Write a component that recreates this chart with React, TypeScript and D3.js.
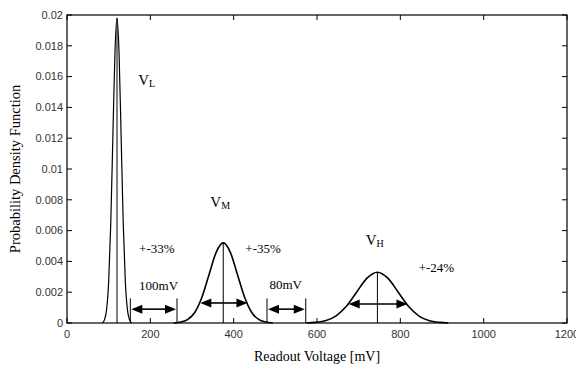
import * as d3 from "d3";

// readout voltage (mV) vs probability density
const lowPeak: [number, number][] = [
  [85, 0], [90, 0.00022], [95, 0.00087], [100, 0.00268], [105, 0.00643],
  [110, 0.01201], [115, 0.01747], [120, 0.0198], [125, 0.01747], [130, 0.01201],
  [135, 0.00643], [140, 0.00268], [145, 0.00087], [150, 0.00022], [155, 0],
];
const midPeak: [number, number][] = [
  [256, 0], [273, 0.00006], [290, 0.00023], [307, 0.0007], [324, 0.00169],
  [341, 0.00315], [358, 0.00459], [375, 0.0052], [392, 0.00459], [409, 0.00315],
  [426, 0.00169], [443, 0.0007], [460, 0.00023], [477, 0.00006], [494, 0],
];
const highPeak: [number, number][] = [
  [575, 0], [595, 0.00004], [620, 0.00014], [645, 0.00045], [670, 0.00107],
  [695, 0.002], [720, 0.00291], [745, 0.0033], [770, 0.00291], [795, 0.002],
  [820, 0.00107], [845, 0.00045], [870, 0.00014], [895, 0.00004], [915, 0],
];

const peakCenters = [120, 375, 745];
const peakHeights = [0.0198, 0.0052, 0.0033];

// gaps between levels: [from, to, bar top, arrow level]
const gaps: [number, number, number, number][] = [
  [152, 264, 0.0016, 0.0009],
  [480, 573, 0.0016, 0.0009],
];
// spreads around the middle and high level: [from, to, level]
const spreads: [number, number, number][] = [
  [320, 433, 0.0013],
  [676, 817, 0.00123],
];

const xTicks = [0, 200, 400, 600, 800, 1000, 1200];
const yTicks = [0, 0.002, 0.004, 0.006, 0.008, 0.01, 0.012, 0.014, 0.016, 0.018, 0.02];

const levelLabels = [
  { main: "V", sub: "L", x: 171, y: 0.01545 },
  { main: "V", sub: "M", x: 344, y: 0.00753 },
  { main: "V", sub: "H", x: 717, y: 0.00506 },
];
const notes = [
  { text: "+-33%", x: 173, y: 0.00455 },
  { text: "+-35%", x: 428, y: 0.00455 },
  { text: "+-24%", x: 844, y: 0.00331 },
  { text: "100mV", x: 173, y: 0.00214 },
  { text: "80mV", x: 486, y: 0.0022 },
];

const W = 576;
const H = 366;
const margin = { top: 15, right: 10, bottom: 43, left: 67 };
const serif = "'Liberation Serif', 'Times New Roman', serif";
const sans = "'Liberation Sans', Arial, sans-serif";

function DoubleArrow({ x1, x2, y }: { x1: number; x2: number; y: number }) {
  const len = 11;
  const hw = 4.5;
  return (
    <g>
      <line x1={x1 + len - 1} x2={x2 - len + 1} y1={y} y2={y} stroke="#000" strokeWidth={1.6} />
      <path d={`M${x1},${y}L${x1 + len},${y - hw}L${x1 + len},${y + hw}Z`} fill="#000" />
      <path d={`M${x2},${y}L${x2 - len},${y - hw}L${x2 - len},${y + hw}Z`} fill="#000" />
    </g>
  );
}

export default function App() {
  const x = d3.scaleLinear().domain([0, 1200]).range([margin.left, W - margin.right + 1]);
  const y = d3.scaleLinear().domain([0, 0.02]).range([H - margin.bottom, margin.top]);
  const x0 = x(0);
  const x1 = x(1200);
  const y0 = y(0);
  const y1 = y(0.02);

  const line = d3
    .line<[number, number]>()
    .x((d) => x(d[0]))
    .y((d) => y(d[1]))
    .curve(d3.curveMonotoneX);

  const tick = 5;

  return (
    <svg
      width={W}
      height={H}
      style={{ position: "absolute", left: 0, top: 0, background: "#fff" }}
    >
      <rect width={W} height={H} fill="#fff" />

      {/* curves */}
      {[lowPeak, midPeak, highPeak].map((pts, i) => (
        <path key={i} d={line(pts) ?? ""} fill="none" stroke="#000" strokeWidth={i === 0 ? 1.2 : 1.6} />
      ))}
      {peakCenters.map((c, i) => (
        <line key={i} x1={x(c)} x2={x(c)} y1={y0} y2={y(peakHeights[i])} stroke="#000" strokeWidth={1} />
      ))}

      {/* gap markers */}
      {gaps.map((g, i) => (
        <g key={i}>
          <line x1={x(g[0])} x2={x(g[0])} y1={y0} y2={y(g[2])} stroke="#000" strokeWidth={1} />
          <line x1={x(g[1])} x2={x(g[1])} y1={y0} y2={y(g[2])} stroke="#000" strokeWidth={1} />
          <DoubleArrow x1={x(g[0]) + 1} x2={x(g[1]) - 1} y={y(g[3])} />
        </g>
      ))}
      {spreads.map((s, i) => (
        <DoubleArrow key={i} x1={x(s[0])} x2={x(s[1])} y={y(s[2])} />
      ))}

      {/* box and ticks */}
      <rect x={x0} y={y1} width={x1 - x0} height={y0 - y1} fill="none" stroke="#000" strokeWidth={1.2} />
      {xTicks.map((t) => (
        <g key={t}>
          <line x1={x(t)} x2={x(t)} y1={y0} y2={y0 - tick} stroke="#000" />
          <line x1={x(t)} x2={x(t)} y1={y1} y2={y1 + tick} stroke="#000" />
          <text x={x(t)} y={y0 + 15} textAnchor="middle" fontFamily={sans} fontSize={11} fill="#333">
            {t}
          </text>
        </g>
      ))}
      {yTicks.map((t) => (
        <g key={t}>
          <line x1={x0} x2={x0 + tick} y1={y(t)} y2={y(t)} stroke="#000" />
          <line x1={x1} x2={x1 - tick} y1={y(t)} y2={y(t)} stroke="#000" />
          <text x={x0 - 4} y={y(t)} dy="0.35em" textAnchor="end" fontFamily={sans} fontSize={11} fill="#333">
            {t}
          </text>
        </g>
      ))}

      {/* annotations */}
      {levelLabels.map((l, i) => (
        <text key={i} x={x(l.x)} y={y(l.y)} fontFamily={serif} fontSize={15} fill="#000">
          {l.main}
          <tspan fontSize={10} dy={2}>{l.sub}</tspan>
        </text>
      ))}
      {notes.map((n, i) => (
        <text key={i} x={x(n.x)} y={y(n.y)} fontFamily={serif} fontSize={13} fill="#000">
          {n.text}
        </text>
      ))}

      {/* axis titles */}
      <text x={(x0 + x1) / 2} y={H - 5} textAnchor="middle" fontFamily={serif} fontSize={14} fill="#000">
        Readout Voltage [mV]
      </text>
      <text
        transform={`translate(20,${(y0 + y1) / 2}) rotate(-90)`}
        textAnchor="middle"
        fontFamily={serif}
        fontSize={14.5}
        fill="#000"
      >
        Probability Density Function
      </text>
    </svg>
  );
}
